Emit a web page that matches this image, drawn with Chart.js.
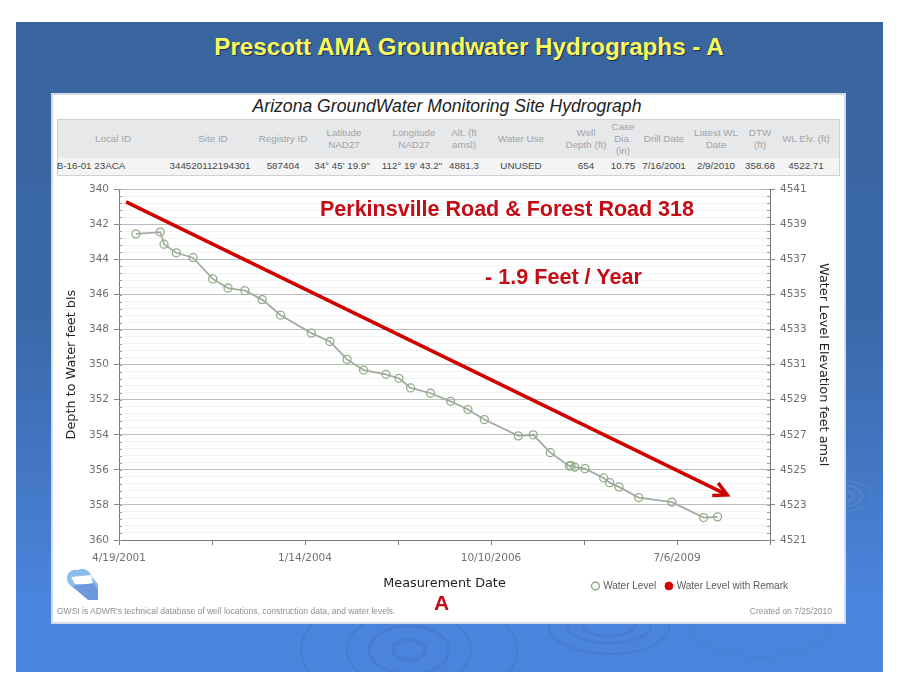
<!DOCTYPE html>
<html lang="en">
<head>
<meta charset="UTF-8">
<title>Prescott AMA Groundwater Hydrographs - A</title>
<script src="https://cdn.jsdelivr.net/npm/chart.js@4"></script>
<style>
    html, body { margin: 0; padding: 0; background: #fff; }
    body { width: 900px; height: 695px; position: relative; overflow: hidden; font-family: "Liberation Sans", Arial, sans-serif; }
    #slide { position: absolute; left: 16px; top: 22px; width: 867px; height: 650px; background: linear-gradient(#39659f 0%, #3a68a8 45%, #4b84dc 88%, #4b84dc 100%); }
    #ripples { position: absolute; left: 16px; top: 22px; }
    #slide-title { position: absolute; left: 14px; width: 910px; top: 33px; text-align: center; font-size: 24.2px; font-weight: bold; color: #fbfb5e; text-shadow: 1px 1px 1px #1c2c50; }
    #panel { position: absolute; left: 51px; top: 93px; width: 791px; height: 527px; background: #fff; border: 2px solid #d3dbe6; box-sizing: content-box; }
    #panel-title { position: absolute; left: 52px; top: 96px; width: 790px; text-align: center; font-size: 17.6px; font-style: italic; color: #222; }
    #info { position: absolute; left: 57px; top: 119px; width: 783px; height: 57px; background: #e7e8ea; border: 1px solid #cfd1d4; box-sizing: border-box; }
    #info .row2 { position: absolute; left: 0; right: 0; top: 38px; height: 17px; background: #f4f4f5; }
    .cell { position: absolute; transform: translateX(-50%); text-align: center; white-space: nowrap; font-size: 9.8px; line-height: 12px; }
    .head { color: #a2a5a8; }
    .val { color: #45484c; top: 160px; }
    #chart-box { position: absolute; left: 57px; top: 178px; width: 783px; height: 443px; }
    .note { position: absolute; color: #c40c14; font-weight: bold; white-space: nowrap; }
    .foot { position: absolute; top: 606px; font-size: 8.5px; color: #8c8f92; white-space: nowrap; }
    #logo { position: absolute; left: 64px; top: 566px; }
</style>
</head>
<body>
<div id="slide"></div>
<svg id="ripples" width="867" height="650" viewBox="16 22 867 650" fill="none">
    <g stroke="#35609f" stroke-opacity="0.2">
        <ellipse cx="409" cy="650" rx="16" ry="10" stroke-width="4"/>
        <ellipse cx="409" cy="650" rx="40" ry="24" stroke-width="3"/>
        <ellipse cx="409" cy="650" rx="62" ry="38" stroke-width="2"/>
        <ellipse cx="409" cy="650" rx="108" ry="58" stroke-width="2"/>
        <ellipse cx="609" cy="626" rx="26" ry="10" stroke-width="3"/>
        <ellipse cx="609" cy="626" rx="42" ry="17" stroke-width="3"/>
        <ellipse cx="609" cy="626" rx="60" ry="28" stroke-width="2"/>
        <ellipse cx="760" cy="625" rx="70" ry="32" stroke-width="1.5" stroke-opacity="0.1"/>
    </g>
    <g stroke="#6f9ad8" stroke-opacity="0.35">
        <ellipse cx="846" cy="496" rx="8" ry="5" stroke-width="2"/>
        <ellipse cx="846" cy="496" rx="16" ry="10" stroke-width="1.5"/>
        <ellipse cx="846" cy="496" rx="26" ry="15" stroke-width="1"/>
    </g>
</svg>
<div id="slide-title">Prescott AMA Groundwater Hydrographs - A</div>
<div id="panel"></div>
<div id="panel-title">Arizona GroundWater Monitoring Site Hydrograph</div>
<div id="info"><div class="row2"></div></div>
<div id="cells"></div>
<div id="chart-box"><canvas id="hydrograph" width="783" height="443"></canvas></div>
<div class="note" style="left:320px;top:197px;font-size:21.5px;">Perkinsville Road &amp; Forest Road 318</div>
<div class="note" style="left:485px;top:264px;font-size:21.6px;">- 1.9 Feet / Year</div>
<div class="note" style="left:434px;top:591px;font-size:21px;">A</div>
<svg id="logo" width="36" height="36">
    <path d="M3 12 C3 5 10 3 14 4 C20 0 27 6 28 11 L34 18 L34 33 L24 33 L7 20 C4 18 3 15 3 12Z" fill="#8dbdec"/>
    <path d="M7 11 L27 9 L29 18 L11 18Z" fill="#fff"/>
    <path d="M8 20 L30 17 L34 24 L34 34 L24 34Z" fill="#6f97dc"/>
</svg>
<div class="foot" style="left:57px;">GWSI is ADWR's technical database of well locations, construction data, and water levels.</div>
<div class="foot" style="right:68px;">Created on 7/25/2010</div>

<script>
    // values
    const measureDates = [
        "2001-07-19", "2001-11-27", "2001-12-17", "2002-02-21", "2002-05-22", "2002-09-05", "2002-11-26",
        "2003-02-25", "2003-05-29", "2003-09-05", "2004-02-17", "2004-05-27", "2004-08-27", "2004-11-24",
        "2005-03-24", "2005-06-02", "2005-08-04", "2005-11-19", "2006-03-07", "2006-06-08", "2006-09-04",
        "2007-03-06", "2007-05-25", "2007-08-25", "2007-12-05", "2007-12-14", "2008-01-03", "2008-02-27",
        "2008-06-07", "2008-07-09", "2008-08-28", "2008-12-12", "2009-06-09", "2009-11-26", "2010-02-09"
    ];
    const depthToWater = [
        342.54, 342.44, 343.13, 343.62, 343.90, 345.11, 345.63,
        345.78, 346.29, 347.18, 348.20, 348.68, 349.70, 350.31,
        350.55, 350.78, 351.33, 351.63, 352.09, 352.56, 353.13,
        354.06, 354.00, 355.02, 355.78, 355.76, 355.85, 355.93,
        356.46, 356.73, 356.97, 357.58, 357.84, 358.72, 358.68
    ];
    const remarkDates = [];
    const remarkDepths = [];
    const trendDates = ["2001-05-27", "2010-04-02"];
    const trendDepths = [340.72, 357.43];

    const axisStart = "2001-04-19";
    const xTickStepDays = 500;
    const xTickLabels = ["4/19/2001", "", "1/14/2004", "", "10/10/2006", "", "7/6/2009", ""];
    const depthMin = 340, depthMax = 360;
    const elevTop = 4541, elevBottom = 4521;

    const tableHeads = ["Local ID", "Site ID", "Registry ID", "Latitude<br>NAD27", "Longitude<br>NAD27", "Alt. (ft<br>amsl)", "Water Use",
        "Well<br>Depth (ft)", "Case<br>Dia.<br>(in)", "Drill Date", "Latest WL<br>Date", "DTW<br>(ft)", "WL Elv. (ft)"];
    const tableValues = ["B-16-01 23ACA", "344520112194301", "587404", "34\u00b0 45' 19.9\"", "112\u00b0 19' 43.2\"", "4881.3", "UNUSED",
        "654", "10.75", "7/16/2001", "2/9/2010", "358.68", "4522.71"];
    const tableCenters = [113, 213, 283, 344, 414, 464, 521, 586, 623, 664, 716, 760, 806];
    const valueCenters = [91, 210, 283, 342, 412, 464, 521, 586, 623, 664, 716, 760, 806];

    const cellBox = document.getElementById("cells");
    tableHeads.forEach((txt, i) => {
        const lines = txt.split("<br>").length;
        const top = 139 - lines * 6;
        cellBox.insertAdjacentHTML("beforeend",
            `<div class="cell head" style="left:${tableCenters[i]}px;top:${top}px">${txt}</div>`);
        const val = document.createElement("div");
        val.className = "cell val";
        val.style.left = valueCenters[i] + "px";
        val.textContent = tableValues[i];
        cellBox.appendChild(val);
    });

    const dayNo = d => (Date.parse(d) - Date.parse(axisStart)) / 86400000;
    const toPoints = (dates, depths) => dates.map((d, i) => ({ x: dayNo(d), y: depths[i] }));
    const isMajor = v => Math.abs(v / 2 - Math.round(v / 2)) < 0.001;

    const axisLook = {
        fontTick: { family: "DejaVu Sans", size: 10.5 },
        fontTitle: { family: "DejaVu Sans", size: 12.8 }
    };

    // small inner tick marks and the arrow head of the trend line
    const extras = {
        id: "extras",
        afterDatasetsDraw(chart) {
            const { ctx, scales } = chart;
            const y = scales.y;
            ctx.save();
            ctx.strokeStyle = "#9a9a9a";
            ctx.lineWidth = 1;
            y.ticks.forEach(t => {
                const py = Math.round(y.getPixelForValue(t.value)) + 0.5;
                ctx.beginPath();
                ctx.moveTo(y.right, py); ctx.lineTo(y.right + 3, py);
                ctx.moveTo(scales.y1.left, py); ctx.lineTo(scales.y1.left - 3, py);
                ctx.stroke();
            });
            const n = trendDates.length - 1;
            const tipX = scales.x.getPixelForValue(dayNo(trendDates[n]));
            const tipY = y.getPixelForValue(trendDepths[n]);
            ctx.strokeStyle = "#d00000";
            ctx.lineWidth = 3.5;
            ctx.lineJoin = "miter";
            ctx.beginPath();
            ctx.moveTo(tipX - 15, tipY + 0.5);
            ctx.lineTo(tipX, tipY);
            ctx.lineTo(tipX - 9, tipY - 12);
            ctx.stroke();
            ctx.restore();
        },
        afterLayout(chart) {
            // legend shares the band of the x axis title, at its right
            const lg = chart.legend;
            const h = lg.bottom - lg.top;
            lg.left = 450;
            lg.right = 741;
            lg.top = 393;
            lg.bottom = lg.top + h;
        }
    };

    new Chart(document.getElementById("hydrograph"), {
        type: "line",
        data: {
            datasets: [
                {
                    label: "Water Level",
                    data: toPoints(measureDates, depthToWater),
                    borderColor: "#a6aaa5",
                    borderWidth: 1.8,
                    pointRadius: 4,
                    pointBorderWidth: 1.3,
                    pointBorderColor: "#8fae85",
                    pointBackgroundColor: "rgba(255,255,255,0)",
                    tension: 0,
                    order: 1
                },
                {
                    label: "Water Level with Remark",
                    data: toPoints(remarkDates, remarkDepths),
                    borderColor: "#d40000",
                    backgroundColor: "#d40000",
                    pointBackgroundColor: "#d40000",
                    showLine: false,
                    order: 2
                },
                {
                    label: "trend",
                    data: toPoints(trendDates, trendDepths),
                    borderColor: "#d00000",
                    borderWidth: 3.5,
                    pointRadius: 0,
                    order: 0
                }
            ]
        },
        options: {
            responsive: false,
            animation: false,
            maintainAspectRatio: false,
            layout: { padding: { top: 7, left: 0, right: 0, bottom: 0 } },
            plugins: {
                title: { display: false },
                tooltip: { enabled: false },
                legend: {
                    position: "bottom",
                    align: "end",
                    labels: {
                        generateLabels: chart => Chart.defaults.plugins.legend.labels.generateLabels(chart)
                            .map(l => l.text === "Water Level" ? { ...l, strokeStyle: "#7fa076", fillStyle: "#fff", lineWidth: 1.3 } : l),
                        filter: item => item.text !== "trend",
                        usePointStyle: true,
                        pointStyle: "circle",
                        boxWidth: 5.5,
                        boxHeight: 5.5,
                        padding: 10,
                        color: "#5a5a5a",
                        font: { family: "Liberation Sans", size: 10 }
                    }
                }
            },
            scales: {
                x: {
                    type: "linear",
                    min: 0,
                    max: xTickStepDays * (xTickLabels.length - 1),
                    afterBuildTicks: s => { s.ticks = xTickLabels.map((_, i) => ({ value: i * xTickStepDays })); },
                    afterFit: s => { s.height = 51; },
                    grid: { drawOnChartArea: false, color: "#777", tickLength: 5 },
                    border: { color: "#777" },
                    ticks: {
                        autoSkip: false,
                        maxRotation: 0,
                        color: "#707070",
                        font: axisLook.fontTick,
                        padding: 7,
                        callback: (v, i) => xTickLabels[i] || ""
                    },
                    title: {
                        display: true,
                        text: "Measurement Date",
                        color: "#222",
                        font: axisLook.fontTitle,
                        padding: { top: 12, bottom: 0 }
                    }
                },
                y: {
                    type: "linear",
                    reverse: true,
                    min: depthMin,
                    max: depthMax,
                    afterBuildTicks: s => {
                        const out = [];
                        for (let k = 0; k <= (depthMax - depthMin) * 5 / 2; k++) out.push({ value: depthMin + k * 0.4 });
                        s.ticks = out;
                    },
                    afterFit: s => { s.width = 62; },
                    border: { color: "#777" },
                    grid: {
                        color: c => isMajor(c.tick.value) ? "#bcbebe" : "#f4f4f4",
                        tickColor: c => isMajor(c.tick.value) ? "#888" : "rgba(0,0,0,0)",
                        tickLength: 5
                    },
                    ticks: {
                        autoSkip: false,
                        color: "#707070",
                        font: axisLook.fontTick,
                        padding: 5,
                        callback: v => isMajor(v) ? String(Math.round(v)) : ""
                    },
                    title: {
                        display: true,
                        text: "Depth to Water feet bls",
                        color: "#222",
                        font: axisLook.fontTitle,
                        padding: { top: 7, bottom: 0 }
                    }
                },
                y1: {
                    type: "linear",
                    position: "right",
                    min: elevBottom,
                    max: elevTop,
                    afterBuildTicks: s => {
                        const out = [];
                        for (let v = elevTop; v >= elevBottom; v -= 2) out.push({ value: v });
                        s.ticks = out;
                    },
                    afterFit: s => { s.width = 70; },
                    border: { color: "#777" },
                    grid: { drawOnChartArea: false, color: "#888", tickLength: 5 },
                    ticks: {
                        autoSkip: false,
                        color: "#707070",
                        font: axisLook.fontTick,
                        padding: 5,
                        callback: v => String(v)
                    },
                    title: {
                        display: true,
                        text: "Water Level Elevation feet amsl",
                        color: "#222",
                        font: axisLook.fontTitle,
                        padding: { top: 9, bottom: 0 }
                    }
                }
            }
        },
        plugins: [extras]
    });
</script>
</body>
</html>
